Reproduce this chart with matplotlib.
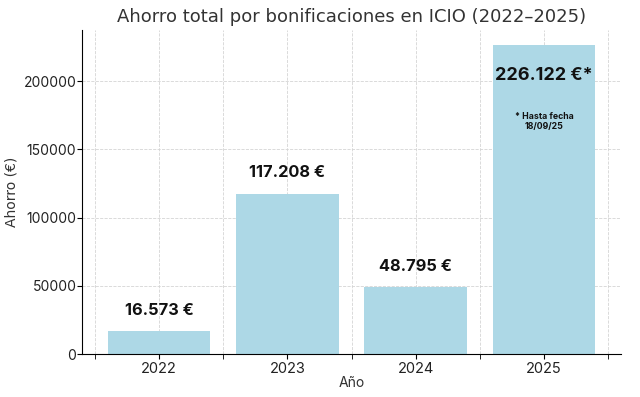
import matplotlib
matplotlib.use("Agg")
from matplotlib import pyplot as plt
from matplotlib.ticker import MultipleLocator

years = ["2022", "2023", "2024", "2025"]
savings = [16573, 117208, 48795, 226122]
labels = ["16.573 €", "117.208 €", "48.795 €", "226.122 €*"]
footnote = "* Hasta fecha\n18/09/25"

fig = plt.figure(figsize=(6.4, 3.97), dpi=100)
ax = fig.add_axes([82 / 640, 43 / 397, 539 / 640, 324 / 397])

x = list(range(len(years)))
ax.bar(x, savings, width=0.8, color="#add8e6", zorder=2)

ax.set_xlim(-0.6, 3.6)
ax.set_ylim(0, max(savings) * 1.05)

ax.set_xticks(x)
ax.set_xticklabels(years, fontsize=10.5, family="Inter", color="#222222")
ax.xaxis.set_minor_locator(MultipleLocator(1, offset=0.5))
ax.tick_params(axis="x", which="both", length=3.5, pad=2)
ax.tick_params(axis="y", length=3.5, pad=0.5)
ax.yaxis.set_major_locator(MultipleLocator(50000))
for t in ax.get_yticklabels():
    t.set_family("Inter")
    t.set_fontsize(10)
    t.set_color("#222222")

ax.grid(True, which="both", axis="x", ls="--", lw=0.6, color="#d4d4d4", zorder=0)
ax.grid(True, which="major", axis="y", ls="--", lw=0.6, color="#d4d4d4", zorder=0)

ax.spines["top"].set_visible(False)
ax.spines["right"].set_visible(False)

# etiquetas de valor
for i in range(3):
    ax.text(x[i], savings[i] + 10000, labels[i], ha="center", va="bottom",
            fontsize=11.8, fontweight="bold", family="Inter", color="#111111", zorder=3)
ax.text(x[3], savings[3] - 22000, labels[3], ha="center", va="center",
        fontsize=13, fontweight="bold", family="Inter", color="#111111", zorder=3)
ax.text(x[3], savings[3] - 56000, footnote, ha="center", va="center",
        fontsize=6.3, fontweight="bold", family="Inter", color="#111111", zorder=3,
        linespacing=1.1)

ax.set_title("Ahorro total por bonificaciones en ICIO (2022–2025)", fontsize=13,
             color="#333333", pad=6)
ax.set_xlabel("Año", fontsize=10, family="Inter", color="#333333", labelpad=0)
ax.set_ylabel("Ahorro (€)", fontsize=10, color="#333333", labelpad=4)

fig.savefig("out.png", dpi=100)
